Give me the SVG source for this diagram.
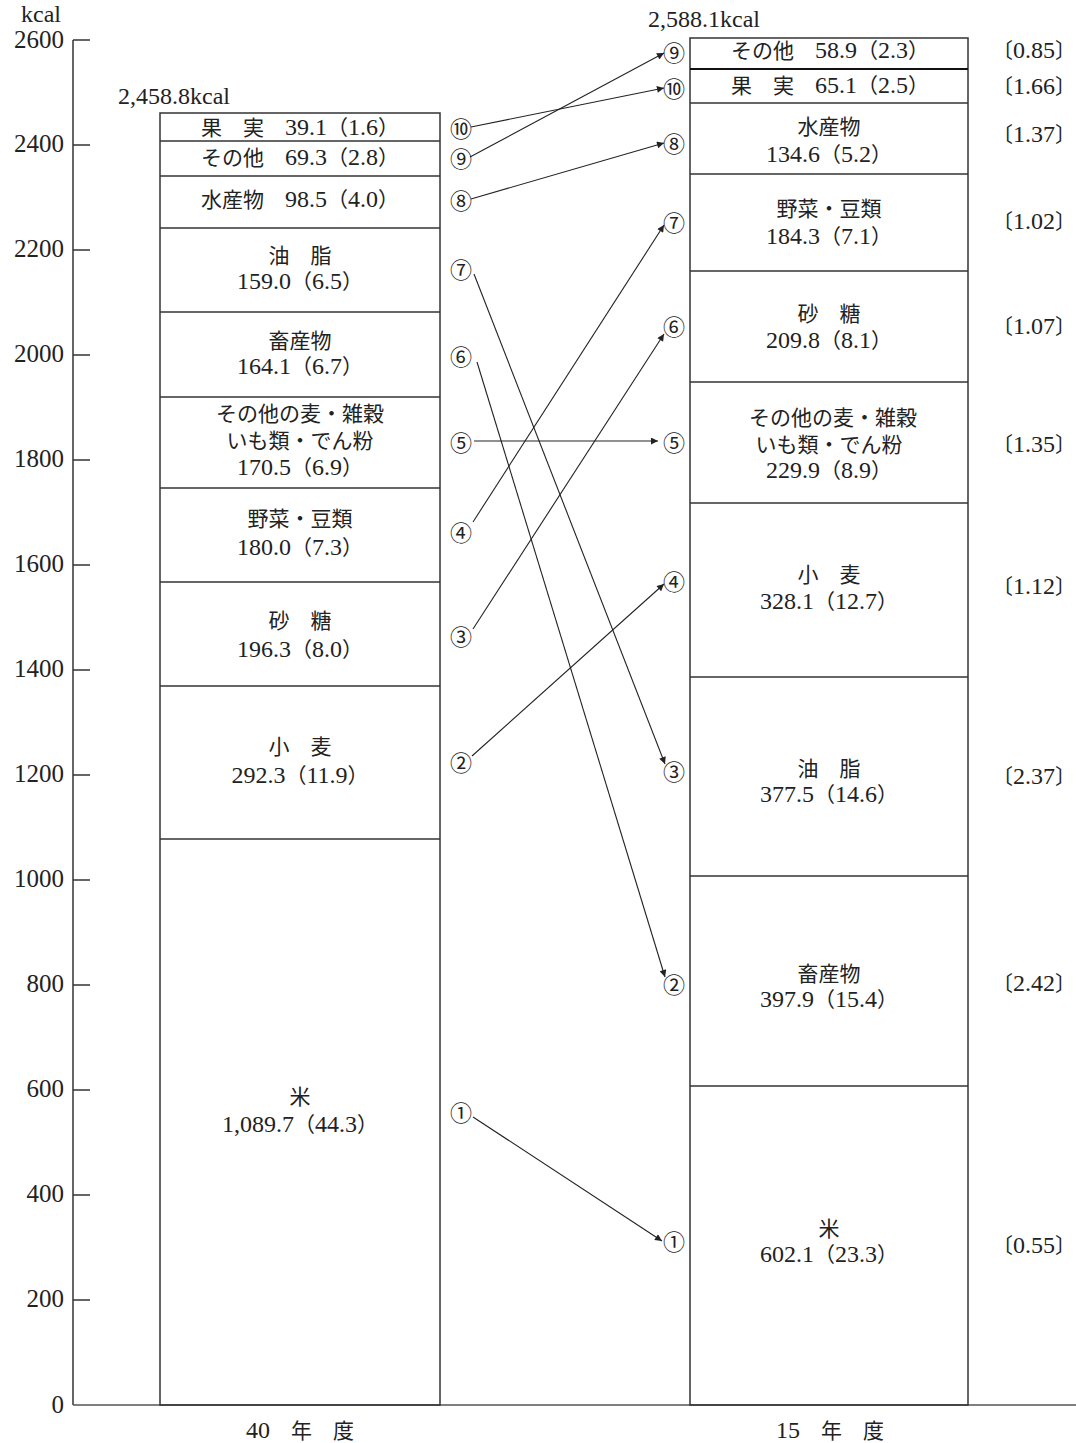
<svg xmlns="http://www.w3.org/2000/svg" width="1076" height="1443" viewBox="0 0 1076 1443">
<style>
text{font-family:"Liberation Serif","Noto Sans CJK JP",serif;fill:#222;font-size:21px}
.d{font-size:24px}
.ax{text-anchor:end;font-size:25px}
.c{text-anchor:middle}
.n{font-family:"Noto Sans CJK JP",sans-serif;font-size:22px;text-anchor:middle;dominant-baseline:central}
.bar{fill:none;stroke:#333;stroke-width:1.5}
.sep{stroke:#333;stroke-width:1.5}
.ln{stroke:#222;stroke-width:1.1;fill:none;marker-end:url(#ah)}
</style>
<defs>
<marker id="ah" viewBox="0 0 10 10" refX="10" refY="5" markerWidth="9" markerHeight="7" markerUnits="userSpaceOnUse" orient="auto">
<path d="M0,0 L10,5 L0,10 z" fill="#222"/>
</marker>
</defs>
<g id="axis">
<line x1="73" y1="40" x2="73" y2="1405" class="sep"/>
<line x1="73" y1="1405" x2="1076" y2="1405" stroke="#555" stroke-width="1.5"/>
<g stroke="#333" stroke-width="1.5">
<line x1="73" y1="40" x2="90" y2="40"/><line x1="73" y1="145" x2="90" y2="145"/><line x1="73" y1="250" x2="90" y2="250"/><line x1="73" y1="355" x2="90" y2="355"/><line x1="73" y1="460" x2="90" y2="460"/><line x1="73" y1="565" x2="90" y2="565"/><line x1="73" y1="670" x2="90" y2="670"/><line x1="73" y1="775" x2="90" y2="775"/><line x1="73" y1="880" x2="90" y2="880"/><line x1="73" y1="985" x2="90" y2="985"/><line x1="73" y1="1090" x2="90" y2="1090"/><line x1="73" y1="1195" x2="90" y2="1195"/><line x1="73" y1="1300" x2="90" y2="1300"/>
</g>
<text x="41" y="22" class="c d">kcal</text>
<text x="64" y="48" class="ax">2600</text><text x="64" y="152" class="ax">2400</text><text x="64" y="257" class="ax">2200</text><text x="64" y="362" class="ax">2000</text><text x="64" y="467" class="ax">1800</text><text x="64" y="572" class="ax">1600</text><text x="64" y="677" class="ax">1400</text><text x="64" y="782" class="ax">1200</text><text x="64" y="887" class="ax">1000</text><text x="64" y="992" class="ax">800</text><text x="64" y="1097" class="ax">600</text><text x="64" y="1202" class="ax">400</text><text x="64" y="1307" class="ax">200</text><text x="64" y="1413" class="ax">0</text>
<text x="300" y="1438" class="c"><tspan class="d">40</tspan>　年　度</text>
<text x="830" y="1438" class="c"><tspan class="d">15</tspan>　年　度</text>
</g>
<g id="bar40">
<text x="174" y="104" class="c d">2,458.8kcal</text>
<rect x="160" y="113" width="280" height="1292" class="bar"/>
<line x1="160" y1="141" x2="440" y2="141" class="sep"/><line x1="160" y1="176" x2="440" y2="176" class="sep"/><line x1="160" y1="228" x2="440" y2="228" class="sep"/><line x1="160" y1="312" x2="440" y2="312" class="sep"/><line x1="160" y1="397" x2="440" y2="397" class="sep"/><line x1="160" y1="488" x2="440" y2="488" class="sep"/><line x1="160" y1="582" x2="440" y2="582" class="sep"/><line x1="160" y1="686" x2="440" y2="686" class="sep"/><line x1="160" y1="839" x2="440" y2="839" class="sep"/>
<text x="300" y="135" class="c">果　実　<tspan class="d">39.1</tspan>（<tspan class="d">1.6</tspan>）</text>
<text x="300" y="165" class="c">その他　<tspan class="d">69.3</tspan>（<tspan class="d">2.8</tspan>）</text>
<text x="300" y="207" class="c">水産物　<tspan class="d">98.5</tspan>（<tspan class="d">4.0</tspan>）</text>
<text x="300" y="263" class="c">油　脂</text><text x="300" y="289" class="c"><tspan class="d">159.0</tspan>（<tspan class="d">6.5</tspan>）</text>
<text x="300" y="348" class="c">畜産物</text><text x="300" y="374" class="c"><tspan class="d">164.1</tspan>（<tspan class="d">6.7</tspan>）</text>
<text x="300" y="421" class="c">その他の麦・雑穀</text><text x="300" y="448" class="c">いも類・でん粉</text><text x="300" y="475" class="c"><tspan class="d">170.5</tspan>（<tspan class="d">6.9</tspan>）</text>
<text x="300" y="526" class="c">野菜・豆類</text><text x="300" y="555" class="c"><tspan class="d">180.0</tspan>（<tspan class="d">7.3</tspan>）</text>
<text x="300" y="628" class="c">砂　糖</text><text x="300" y="657" class="c"><tspan class="d">196.3</tspan>（<tspan class="d">8.0</tspan>）</text>
<text x="300" y="754" class="c">小　麦</text><text x="300" y="783" class="c"><tspan class="d">292.3</tspan>（<tspan class="d">11.9</tspan>）</text>
<text x="300" y="1104" class="c">米</text><text x="300" y="1132" class="c"><tspan class="d">1,089.7</tspan>（<tspan class="d">44.3</tspan>）</text>
</g>
<g id="bar15">
<text x="704" y="27" class="c d">2,588.1kcal</text>
<rect x="690" y="38" width="278" height="1367" class="bar"/>
<line x1="690" y1="69" x2="968" y2="69" stroke="#111" stroke-width="2.2"/><line x1="690" y1="103" x2="968" y2="103" class="sep"/><line x1="690" y1="174" x2="968" y2="174" class="sep"/><line x1="690" y1="271" x2="968" y2="271" class="sep"/><line x1="690" y1="382" x2="968" y2="382" class="sep"/><line x1="690" y1="503" x2="968" y2="503" class="sep"/><line x1="690" y1="677" x2="968" y2="677" class="sep"/><line x1="690" y1="876" x2="968" y2="876" class="sep"/><line x1="690" y1="1086" x2="968" y2="1086" class="sep"/>
<text x="830" y="58" class="c">その他　<tspan class="d">58.9</tspan>（<tspan class="d">2.3</tspan>）</text>
<text x="830" y="93" class="c">果　実　<tspan class="d">65.1</tspan>（<tspan class="d">2.5</tspan>）</text>
<text x="829" y="134" class="c">水産物</text><text x="829" y="162" class="c"><tspan class="d">134.6</tspan>（<tspan class="d">5.2</tspan>）</text>
<text x="829" y="216" class="c">野菜・豆類</text><text x="829" y="244" class="c"><tspan class="d">184.3</tspan>（<tspan class="d">7.1</tspan>）</text>
<text x="829" y="321" class="c">砂　糖</text><text x="829" y="348" class="c"><tspan class="d">209.8</tspan>（<tspan class="d">8.1</tspan>）</text>
<text x="833" y="425" class="c">その他の麦・雑穀</text><text x="829" y="452" class="c">いも類・でん粉</text><text x="829" y="478" class="c"><tspan class="d">229.9</tspan>（<tspan class="d">8.9</tspan>）</text>
<text x="829" y="582" class="c">小　麦</text><text x="829" y="609" class="c"><tspan class="d">328.1</tspan>（<tspan class="d">12.7</tspan>）</text>
<text x="829" y="776" class="c">油　脂</text><text x="829" y="802" class="c"><tspan class="d">377.5</tspan>（<tspan class="d">14.6</tspan>）</text>
<text x="829" y="981" class="c">畜産物</text><text x="829" y="1007" class="c"><tspan class="d">397.9</tspan>（<tspan class="d">15.4</tspan>）</text>
<text x="829" y="1236" class="c">米</text><text x="829" y="1262" class="c"><tspan class="d">602.1</tspan>（<tspan class="d">23.3</tspan>）</text>
</g>
<g id="ratios">
<text x="1034" y="58" class="c">〔<tspan class="d">0.85</tspan>〕</text>
<text x="1034" y="94" class="c">〔<tspan class="d">1.66</tspan>〕</text>
<text x="1034" y="142" class="c">〔<tspan class="d">1.37</tspan>〕</text>
<text x="1034" y="229" class="c">〔<tspan class="d">1.02</tspan>〕</text>
<text x="1034" y="334" class="c">〔<tspan class="d">1.07</tspan>〕</text>
<text x="1034" y="452" class="c">〔<tspan class="d">1.35</tspan>〕</text>
<text x="1034" y="594" class="c">〔<tspan class="d">1.12</tspan>〕</text>
<text x="1034" y="784" class="c">〔<tspan class="d">2.37</tspan>〕</text>
<text x="1034" y="991" class="c">〔<tspan class="d">2.42</tspan>〕</text>
<text x="1034" y="1253" class="c">〔<tspan class="d">0.55</tspan>〕</text>
</g>
<g id="nums40">
<text x="461" y="127" class="n">⑩</text><text x="461" y="157" class="n">⑨</text><text x="461" y="199" class="n">⑧</text><text x="461" y="268" class="n">⑦</text><text x="461" y="355" class="n">⑥</text><text x="461" y="441" class="n">⑤</text><text x="461" y="531" class="n">④</text><text x="461" y="635" class="n">③</text><text x="461" y="761" class="n">②</text><text x="461" y="1111" class="n">①</text>
</g>
<g id="nums15">
<text x="674" y="51" class="n">⑨</text><text x="674" y="87" class="n">⑩</text><text x="674" y="142" class="n">⑧</text><text x="674" y="221" class="n">⑦</text><text x="674" y="325" class="n">⑥</text><text x="674" y="441" class="n">⑤</text><text x="674" y="580" class="n">④</text><text x="674" y="770" class="n">③</text><text x="674" y="983" class="n">②</text><text x="674" y="1240" class="n">①</text>
</g>
<g id="connectors">
<line x1="471" y1="127" x2="664" y2="88" class="ln"/>
<line x1="470" y1="157" x2="664" y2="53" class="ln"/>
<line x1="471" y1="199" x2="664" y2="143" class="ln"/>
<line x1="474" y1="274" x2="665" y2="764" class="ln"/>
<line x1="477" y1="362" x2="665" y2="977" class="ln"/>
<line x1="474" y1="441" x2="658" y2="441" class="ln"/>
<line x1="473" y1="522" x2="664" y2="225" class="ln"/>
<line x1="473" y1="629" x2="664" y2="334" class="ln"/>
<line x1="472" y1="756" x2="664" y2="584" class="ln"/>
<line x1="473" y1="1117" x2="662" y2="1241" class="ln"/>
</g>
</svg>
